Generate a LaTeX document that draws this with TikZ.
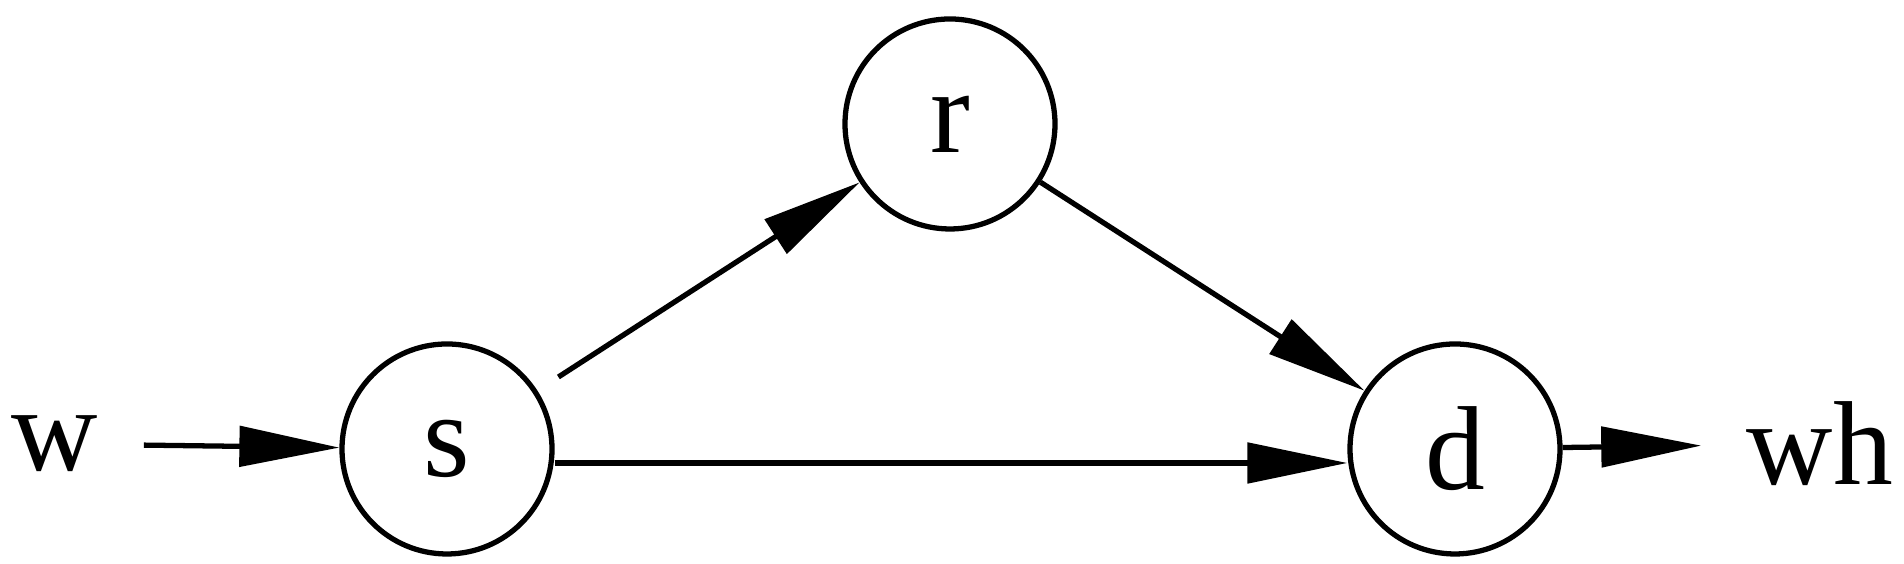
\documentclass[tikz,border=0pt]{standalone}
\usepackage{fontspec}
\setmainfont{Liberation Serif}
\usetikzlibrary{arrows.meta}

\tikzset{
  state/.style={draw, circle, line width=1.5pt, minimum size=2.1cm, inner sep=0pt},
  label text/.style={inner sep=0.45cm},
  flow/.style={line width=1.5pt, -{Triangle[length=1cm, width=0.4cm]}}
}

\begin{document}
\begin{tikzpicture}[font=\fontsize{34}{40}\selectfont]
\useasboundingbox (0,0) rectangle (19.04,5.64);

% Create the nodes
\node [state] (s) at (4.47,1.15) {s};
\node [state] (r) at (9.50,4.40) {r};
\node [state] (d) at (14.55,1.15) {d};
\node [label text] (w) at (0.55,1.2) {w};
\node [label text] (wh) at (18.2,1.2) {wh};

% Connect them
\draw [flow] (w) -- (s);
\draw [flow, shorten <=0.25cm] (s) -- (r);
\draw [flow] ([yshift=-0.14cm]s.east) -- ([yshift=-0.14cm]d.west);
\draw [flow] (r) -- (d);
\draw [flow] (d) -- (wh);

\end{tikzpicture}
\end{document}
